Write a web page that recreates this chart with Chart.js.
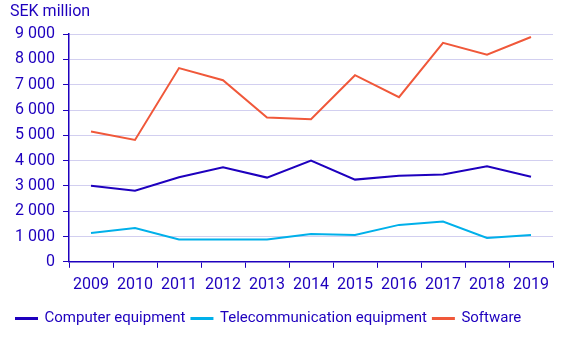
<!DOCTYPE html>
<html>
<head>
<meta charset="utf-8">
<script src="https://cdn.jsdelivr.net/npm/chart.js@4"></script>
<style>
  html, body { margin: 0; padding: 0; background: #fff; }
  #wrap { width: 567px; height: 340px; }
</style>
</head>
<body>
<div id="wrap"><canvas id="investChart"></canvas></div>
<script>
const years = ['2009', '2010', '2011', '2012', '2013', '2014', '2015', '2016', '2017', '2018', '2019'];
const computerEquipment = [3010, 2810, 3340, 3740, 3330, 4000, 3250, 3400, 3450, 3780, 3360];
const telecomEquipment = [1140, 1340, 880, 880, 880, 1100, 1060, 1460, 1590, 940, 1060];
const software = [5150, 4820, 7660, 7180, 5710, 5640, 7380, 6510, 8660, 8190, 8890];

const textColor = '#1e00be';
const tickFont = { family: 'Roboto', size: 16, weight: 'normal' };
const legendFont = { family: 'Roboto', size: 15, weight: 'normal' };

function line(label, data, color) {
  return {
    label: label,
    data: data,
    borderColor: color,
    backgroundColor: color,
    borderWidth: 2,
    pointRadius: 0,
    tension: 0
  };
}

const ctx = document.getElementById('investChart').getContext('2d');
const investChart = new Chart(ctx, {
  type: 'line',
  data: {
    labels: years,
    datasets: [
      line('Computer equipment', computerEquipment, '#1e00be'),
      line('Telecommunication equipment', telecomEquipment, '#00b0ea'),
      line('Software', software, '#f0583a')
    ]
  },
  options: {
    responsive: true,
    maintainAspectRatio: false,
    animation: false,
    layout: { padding: { left: 10, right: 14, top: 0, bottom: 4 } },
    plugins: {
      title: {
        display: true,
        text: 'SEK million',
        align: 'start',
        color: textColor,
        font: tickFont,
        padding: { top: 2, bottom: 13 }
      },
      legend: {
        position: 'bottom',
        align: 'start',
        labels: {
          color: textColor,
          font: legendFont,
          boxWidth: 21,
          boxHeight: 1,
          padding: 6
        }
      },
      tooltip: { enabled: false }
    },
    scales: {
      x: {
        offset: true,
        grid: {
          offset: true,
          drawOnChartArea: false,
          color: textColor,
          tickLength: 6
        },
        border: { color: textColor, width: 1.5 },
        ticks: { color: textColor, font: tickFont, maxRotation: 0, padding: 8 },
        // leave some room between the year labels and the legend
        afterFit: function (axis) { axis.height += 2; }
      },
      y: {
        min: 0,
        max: 9000,
        grid: {
          color: '#d2cff0',
          tickColor: textColor,
          tickLength: 6
        },
        border: { color: textColor, width: 1.5 },
        ticks: {
          stepSize: 1000,
          color: textColor,
          font: tickFont,
          padding: 8,
          callback: function (v) {
            return v.toLocaleString('en-US').replace(',', ' ');
          }
        },
        afterFit: function (axis) { axis.width = 59; }
      }
    }
  }
});
</script>
</body>
</html>
